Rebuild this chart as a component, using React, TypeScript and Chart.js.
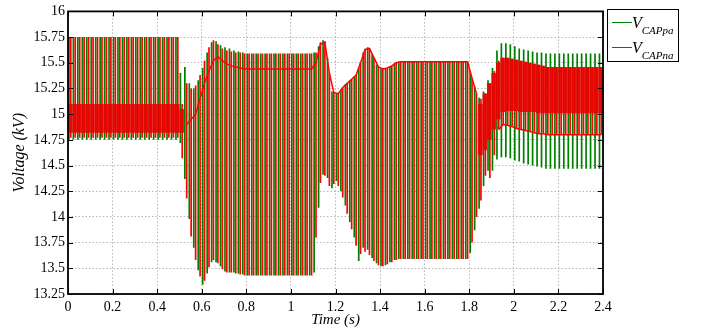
import React, { useEffect, useRef } from 'react';
import { Chart, registerables } from 'chart.js';

Chart.register(...registerables);

const FONT = '"Liberation Serif", "Times New Roman", serif';

// Ripple period of the capacitor voltages (one green and one red stripe per cycle)
const PERIOD = 0.02;

// Axis ticks
const X_MIN = 0;
const X_MAX = 2.4;
const X_STEP = 0.2;
const Y_MIN = 13.25;
const Y_MAX = 16;
const Y_STEP = 0.25;

// V_CAPpa : per-cycle maximum / minimum (kV)
const greenHi = [
  15.75, 15.75, 15.75, 15.75, 15.75, 15.75, 15.75, 15.75, 15.75, 15.75,
  15.75, 15.75, 15.75, 15.75, 15.75, 15.75, 15.75, 15.75, 15.75, 15.75,
  15.75, 15.75, 15.75, 15.75, 15.75, 15.40, 15.46, 15.30, 15.25, 15.33,
  15.45, 15.60, 15.70, 15.71, 15.67, 15.65, 15.64, 15.62, 15.61, 15.60,
  15.59, 15.59, 15.59, 15.59, 15.59, 15.59, 15.59, 15.59, 15.59, 15.59,
  15.59, 15.59, 15.59, 15.59, 15.59, 15.60, 15.66, 15.72, 15.55, 15.22,
  15.20, 15.24, 15.29, 15.33, 15.37, 15.45, 15.60, 15.65, 15.58, 15.48,
  15.44, 15.44, 15.46, 15.49, 15.51, 15.51, 15.51, 15.51, 15.51, 15.51,
  15.51, 15.51, 15.51, 15.51, 15.51, 15.51, 15.51, 15.51, 15.51, 15.51,
  15.42, 15.27, 15.16, 15.22, 15.33, 15.45, 15.62, 15.69, 15.69, 15.68,
  15.66, 15.64, 15.63, 15.62, 15.61, 15.60, 15.60, 15.59, 15.59, 15.59,
  15.59, 15.59, 15.59, 15.59, 15.59, 15.59, 15.59, 15.59, 15.59, 15.59,
];
const greenLo = [
  14.75, 14.75, 14.75, 14.75, 14.75, 14.75, 14.75, 14.75, 14.75, 14.75,
  14.75, 14.75, 14.75, 14.75, 14.75, 14.75, 14.75, 14.75, 14.75, 14.75,
  14.75, 14.75, 14.75, 14.75, 14.75, 14.72, 14.37, 13.98, 13.70, 13.48,
  13.34, 13.45, 13.56, 13.56, 13.52, 13.47, 13.46, 13.46, 13.45, 13.44,
  13.43, 13.43, 13.43, 13.43, 13.43, 13.43, 13.43, 13.43, 13.43, 13.43,
  13.43, 13.43, 13.43, 13.43, 13.43, 13.46, 14.09, 14.41, 14.38, 14.28,
  14.35, 14.25, 14.11, 13.95, 13.80, 13.57, 13.70, 13.68, 13.60, 13.55,
  13.52, 13.53, 13.56, 13.58, 13.59, 13.59, 13.59, 13.59, 13.59, 13.59,
  13.59, 13.59, 13.59, 13.59, 13.59, 13.59, 13.59, 13.59, 13.59, 13.59,
  13.65, 13.87, 14.08, 14.30, 14.45, 14.45, 14.56, 14.58, 14.58, 14.57,
  14.55, 14.54, 14.52, 14.51, 14.50, 14.49, 14.48, 14.47, 14.47, 14.47,
  14.47, 14.47, 14.47, 14.47, 14.47, 14.47, 14.47, 14.47, 14.47, 14.47,
];

// V_CAPna : per-cycle maximum / minimum (kV)
const redHi = [
  15.75, 15.75, 15.75, 15.75, 15.75, 15.75, 15.75, 15.75, 15.75, 15.75,
  15.75, 15.75, 15.75, 15.75, 15.75, 15.75, 15.75, 15.75, 15.75, 15.75,
  15.75, 15.75, 15.75, 15.75, 15.75, 15.10, 15.30, 15.25, 15.28, 15.38,
  15.52, 15.65, 15.72, 15.68, 15.64, 15.62, 15.61, 15.60, 15.60, 15.59,
  15.59, 15.59, 15.59, 15.59, 15.59, 15.59, 15.59, 15.59, 15.59, 15.59,
  15.59, 15.59, 15.59, 15.59, 15.59, 15.60, 15.70, 15.71, 15.40, 15.21,
  15.20, 15.26, 15.30, 15.34, 15.38, 15.50, 15.63, 15.64, 15.55, 15.46,
  15.44, 15.45, 15.47, 15.50, 15.51, 15.51, 15.51, 15.51, 15.51, 15.51,
  15.51, 15.51, 15.51, 15.51, 15.51, 15.51, 15.51, 15.51, 15.51, 15.51,
  15.35, 15.20, 15.15, 15.20, 15.30, 15.42, 15.52, 15.55, 15.55, 15.54,
  15.53, 15.52, 15.51, 15.50, 15.49, 15.48, 15.47, 15.46, 15.46, 15.46,
  15.46, 15.46, 15.46, 15.46, 15.46, 15.46, 15.46, 15.46, 15.46, 15.46,
];
const redLo = [
  14.77, 14.77, 14.77, 14.77, 14.77, 14.77, 14.77, 14.77, 14.77, 14.77,
  14.77, 14.77, 14.77, 14.77, 14.77, 14.77, 14.77, 14.77, 14.77, 14.77,
  14.77, 14.77, 14.77, 14.77, 14.77, 14.57, 14.18, 13.81, 13.58, 13.42,
  13.38, 13.51, 13.58, 13.55, 13.49, 13.46, 13.46, 13.45, 13.44, 13.43,
  13.43, 13.43, 13.43, 13.43, 13.43, 13.43, 13.43, 13.43, 13.43, 13.43,
  13.43, 13.43, 13.43, 13.43, 13.43, 13.80, 14.33, 14.40, 14.30, 14.32,
  14.30, 14.19, 14.03, 13.88, 13.72, 13.64, 13.66, 13.63, 13.57, 13.53,
  13.52, 13.54, 13.56, 13.58, 13.59, 13.59, 13.59, 13.59, 13.59, 13.59,
  13.59, 13.59, 13.59, 13.59, 13.59, 13.59, 13.59, 13.59, 13.59, 13.59,
  13.75, 14.00, 14.16, 14.40, 14.38, 14.60, 14.85, 14.90, 14.89, 14.88,
  14.86, 14.85, 14.84, 14.83, 14.82, 14.81, 14.81, 14.80, 14.80, 14.80,
  14.80, 14.80, 14.80, 14.80, 14.80, 14.80, 14.80, 14.80, 14.80, 14.80,
];

// Dense part of V_CAPna (where the red trace fills the cycle)
const redBandLo = [
  14.82, 14.82, 14.82, 14.82, 14.82, 14.82, 14.82, 14.82, 14.82, 14.82,
  14.82, 14.82, 14.82, 14.82, 14.82, 14.82, 14.82, 14.82, 14.82, 14.82,
  14.82, 14.82, 14.82, 14.82, 14.82, 14.82, null, null, null, null,
  null, null, null, null, null, null, null, null, null, null,
  null, null, null, null, null, null, null, null, null, null,
  null, null, null, null, null, null, null, null, null, null,
  null, null, null, null, null, null, null, null, null, null,
  null, null, null, null, null, null, null, null, null, null,
  null, null, null, null, null, null, null, null, null, null,
  null, null, 14.60, 14.65, 14.75, 14.85, 14.95, 15.02, 15.03, 15.03,
  15.03, 15.02, 15.02, 15.02, 15.02, 15.01, 15.01, 15.01, 15.01, 15.01,
  15.01, 15.01, 15.01, 15.01, 15.01, 15.01, 15.01, 15.01, 15.01, 15.01,
];
const redBandHi = [
  15.10, 15.10, 15.10, 15.10, 15.10, 15.10, 15.10, 15.10, 15.10, 15.10,
  15.10, 15.10, 15.10, 15.10, 15.10, 15.10, 15.10, 15.10, 15.10, 15.10,
  15.10, 15.10, 15.10, 15.10, 15.10, 15.05, null, null, null, null,
  null, null, null, null, null, null, null, null, null, null,
  null, null, null, null, null, null, null, null, null, null,
  null, null, null, null, null, null, null, null, null, null,
  null, null, null, null, null, null, null, null, null, null,
  null, null, null, null, null, null, null, null, null, null,
  null, null, null, null, null, null, null, null, null, null,
  null, null, 15.10, 15.20, 15.30, 15.40, 15.50, 15.55, 15.55, 15.54,
  15.53, 15.52, 15.51, 15.50, 15.49, 15.48, 15.47, 15.46, 15.46, 15.46,
  15.46, 15.46, 15.46, 15.46, 15.46, 15.46, 15.46, 15.46, 15.46, 15.46,
];

// Visible red envelope line of V_CAPna
const redTrace = [
  null, null, null, null, null, null, null, null, null, null,
  null, null, null, null, null, null, null, null, null, null,
  null, null, null, null, null, null, 14.90, 14.95, 15.00, 15.15,
  15.30, 15.42, 15.52, 15.56, 15.52, 15.49, 15.47, 15.46, 15.45, 15.44,
  15.44, 15.44, 15.44, 15.44, 15.44, 15.44, 15.44, 15.44, 15.44, 15.44,
  15.44, 15.44, 15.44, 15.44, 15.44, 15.50, 15.68, 15.70, 15.40, 15.21,
  15.20, 15.26, 15.30, 15.34, 15.38, 15.50, 15.63, 15.64, 15.55, 15.46,
  15.44, 15.45, 15.47, 15.50, 15.51, 15.51, 15.51, 15.51, 15.51, 15.51,
  15.51, 15.51, 15.51, 15.51, 15.51, 15.51, 15.51, 15.51, 15.51, 15.51,
  15.35, 15.20, null, null, null, null, 14.85, 14.90, 14.89, 14.88,
  14.86, 14.85, 14.84, 14.83, 14.82, 14.81, 14.81, 14.80, 14.80, 14.80,
  14.80, 14.80, 14.80, 14.80, 14.80, 14.80, 14.80, 14.80, 14.80, 14.80,
];

const GREEN = '#008000';
const RED = '#ff0000';

const cycleStart = greenHi.map((_, i) => i * PERIOD);

const greenData = cycleStart.map((t, i) => ({ x: t + 0.0042, y: [greenLo[i], greenHi[i]] }));
const redData = cycleStart.map((t, i) => ({ x: t + 0.0125, y: [redLo[i], redHi[i]] }));
const bandData = cycleStart.flatMap((t, i) =>
  redBandLo[i] == null ? [] : [{ x: t + 0.01, y: [redBandLo[i], redBandHi[i]] }]
);
const traceData = cycleStart.map((t, i) => ({ x: t + 0.0125, y: redTrace[i] }));

const framePlugin = {
  id: 'matlabFrame',
  afterDraw(chart: any) {
    const { ctx, chartArea: a, scales } = chart;
    const xs = scales.x;
    const ys = scales.y;
    ctx.save();
    ctx.strokeStyle = '#000';
    ctx.lineWidth = 1;
    ctx.beginPath();
    xs.ticks.forEach((tk: any) => {
      const px = Math.round(xs.getPixelForValue(tk.value)) + 0.5;
      ctx.moveTo(px, a.bottom);
      ctx.lineTo(px, a.bottom - 5);
      ctx.moveTo(px, a.top);
      ctx.lineTo(px, a.top + 5);
    });
    ys.ticks.forEach((tk: any) => {
      const py = Math.round(ys.getPixelForValue(tk.value)) + 0.5;
      ctx.moveTo(a.left, py);
      ctx.lineTo(a.left + 5, py);
      ctx.moveTo(a.right, py);
      ctx.lineTo(a.right - 5, py);
    });
    ctx.stroke();
    ctx.lineWidth = 1.8;
    ctx.strokeRect(a.left, a.top, a.right - a.left, a.bottom - a.top);
    ctx.restore();
  },
};

function Legend() {
  const rowText: React.CSSProperties = {
    position: 'absolute',
    left: 24,
    fontSize: 16,
    lineHeight: '15px',
    whiteSpace: 'nowrap',
    fontStyle: 'italic',
    fontFamily: FONT,
    color: '#000',
  };
  const sub: React.CSSProperties = { fontSize: 11, verticalAlign: '-6px', lineHeight: '15px' };
  return (
    <div
      style={{
        position: 'absolute',
        left: 607,
        top: 9,
        width: 72,
        height: 53,
        boxSizing: 'border-box',
        border: '1px solid #000',
        background: '#fff',
      }}
    >
      <div style={{ position: 'absolute', left: 4, top: 12, width: 20, height: 1, background: GREEN }} />
      <div style={{ ...rowText, top: 5 }}>
        V<span style={sub}>CAPpa</span>
      </div>
      <div style={{ position: 'absolute', left: 4, top: 37, width: 20, height: 1, background: RED }} />
      <div style={{ ...rowText, top: 30 }}>
        V<span style={sub}>CAPna</span>
      </div>
    </div>
  );
}

export default function App() {
  const ref = useRef<HTMLCanvasElement>(null);

  useEffect(() => {
    const canvas = ref.current;
    if (!canvas) return;
    const chart = new Chart(canvas, {
      type: 'bar',
      data: {
        datasets: [
          {
            type: 'line',
            label: 'V_CAPna envelope',
            data: traceData as any,
            borderColor: RED,
            borderWidth: 1.5,
            pointRadius: 0,
            spanGaps: false,
            order: 0,
          } as any,
          {
            label: 'V_CAPna dense',
            data: bandData as any,
            backgroundColor: 'rgba(235,0,0,0.9)',
            borderWidth: 0,
            barThickness: 4.6,
            grouped: false,
            inflateAmount: 0,
            order: 1,
          } as any,
          {
            label: 'V_CAPna',
            data: redData as any,
            backgroundColor: RED,
            borderWidth: 0,
            barThickness: 1.7,
            grouped: false,
            inflateAmount: 0,
            order: 2,
          } as any,
          {
            label: 'V_CAPpa',
            data: greenData as any,
            backgroundColor: GREEN,
            borderWidth: 0,
            barThickness: 1.7,
            grouped: false,
            inflateAmount: 0,
            order: 3,
          } as any,
        ],
      },
      options: {
        responsive: false,
        animation: false,
        events: [],
        layout: { padding: { left: 0, top: 9, right: 99, bottom: 0 } },
        plugins: {
          legend: { display: false },
          tooltip: { enabled: false },
        },
        scales: {
          x: {
            type: 'linear',
            min: X_MIN,
            max: X_MAX,
            offset: false,
            grid: { color: '#b8b8b8', lineWidth: 1, drawTicks: false, offset: false },
            border: { display: false, dash: [1.5, 2] },
            ticks: {
              stepSize: X_STEP,
              autoSkip: false,
              maxRotation: 0,
              padding: 5,
              color: '#000',
              font: { family: FONT, size: 14 },
              callback: (v: any) => String(Number(Number(v).toFixed(2))),
            },
            title: {
              display: true,
              text: 'Time (s)',
              color: '#000',
              font: { family: FONT, size: 15, style: 'italic' },
              padding: { top: 0, bottom: 4 },
            },
            afterFit: (s: any) => {
              s.height = 39;
            },
          },
          y: {
            type: 'linear',
            min: Y_MIN,
            max: Y_MAX,
            grid: { color: '#b8b8b8', lineWidth: 1, drawTicks: false },
            border: { display: false, dash: [1.5, 2] },
            ticks: {
              stepSize: Y_STEP,
              autoSkip: false,
              padding: 3,
              color: '#000',
              font: { family: FONT, size: 14 },
              callback: (v: any) => String(Number(Number(v).toFixed(2))),
            },
            title: {
              display: true,
              text: 'Voltage (kV)',
              color: '#000',
              font: { family: FONT, size: 16, style: 'italic' },
              padding: { top: 10, bottom: 0 },
            },
            afterFit: (s: any) => {
              s.width = 68;
            },
          },
        },
      } as any,
      plugins: [framePlugin],
    });
    return () => chart.destroy();
  }, []);

  return (
    <div style={{ position: 'absolute', left: 0, top: 0, width: 702, height: 333, background: '#fff' }}>
      <canvas ref={ref} width={702} height={333} style={{ display: 'block' }} />
      <Legend />
    </div>
  );
}
